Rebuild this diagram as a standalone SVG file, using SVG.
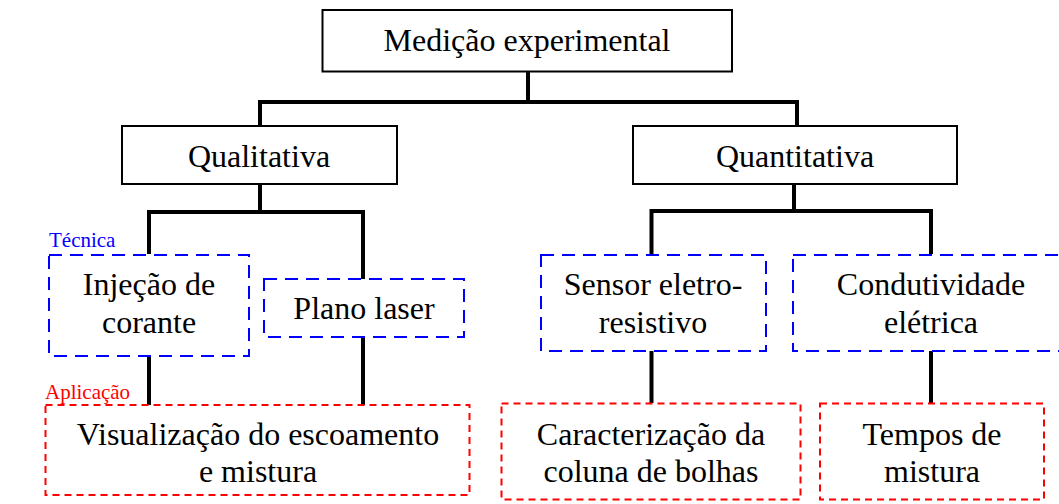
<svg xmlns="http://www.w3.org/2000/svg" width="1059" height="504" viewBox="0 0 1059 504">
<style>
text{font-family:"Liberation Serif","Times New Roman",serif;fill:#000;font-size:32px;text-anchor:middle}
.solid{fill:#fff;stroke:#000;stroke-width:2}
.tec{fill:#fff;stroke:#0000ff;stroke-width:2;stroke-dasharray:13 8}
.app{fill:#fff;stroke:#ff0000;stroke-width:2;stroke-dasharray:7 5}
.conn{fill:none;stroke:#000;stroke-width:4}
text.tl{font-size:21px;text-anchor:start;fill:#0000ff}
text.al{font-size:21px;text-anchor:start;fill:#ff0000}
</style>
<rect width="1059" height="504" fill="#fff"/>
<g id="connectors">
<path class="conn" d="M528 71V102M260 126V102H797V126"/>
<path class="conn" d="M260 184V212M149 254V212H363V279"/>
<path class="conn" d="M149 356V405M363 337V405"/>
<path class="conn" d="M794 184V211M651.500 254V211H931V254"/>
<path class="conn" d="M651.500 351V403M931 351V403"/>
</g>
<g id="node-medicao"><rect class="solid" x="322.500" y="10" width="409.500" height="61.500"/><text x="527" y="51">Medição experimental</text></g>
<g id="node-qualitativa"><rect class="solid" x="122" y="126" width="275" height="58"/><text x="259" y="167">Qualitativa</text></g>
<g id="node-quantitativa"><rect class="solid" x="633" y="126" width="324" height="58"/><text x="795" y="167">Quantitativa</text></g>
<g id="node-injecao"><rect class="tec" x="49" y="255" width="200" height="101"/><text x="149" y="295">Injeção de</text><text x="149" y="333">corante</text></g>
<g id="node-plano"><rect class="tec" x="264" y="279" width="200" height="58"/><text x="364" y="319">Plano laser</text></g>
<g id="node-sensor"><rect class="tec" x="541" y="255" width="225" height="96"/><text x="653" y="295">Sensor eletro-</text><text x="653" y="333">resistivo</text></g>
<g id="node-condutividade"><rect class="tec" x="793" y="255" width="280" height="96"/><text x="931" y="295">Condutividade</text><text x="931" y="333">elétrica</text></g>
<g id="node-visualizacao"><rect class="app" x="45.500" y="405" width="424" height="90"/><text x="258" y="445">Visualização do escoamento</text><text x="258" y="482">e mistura</text></g>
<g id="node-caracterizacao"><rect class="app" x="501.500" y="403.500" width="299" height="96"/><text x="651" y="445">Caracterização da</text><text x="651" y="482">coluna de bolhas</text></g>
<g id="node-tempos"><rect class="app" x="820" y="403.500" width="224" height="96"/><text x="932" y="445">Tempos de</text><text x="932" y="482">mistura</text></g>
<g id="label-tecnica"><text class="tl" x="49" y="247">Técnica</text></g>
<g id="label-aplicacao"><text class="al" x="45" y="399">Aplicação</text></g>
</svg>
